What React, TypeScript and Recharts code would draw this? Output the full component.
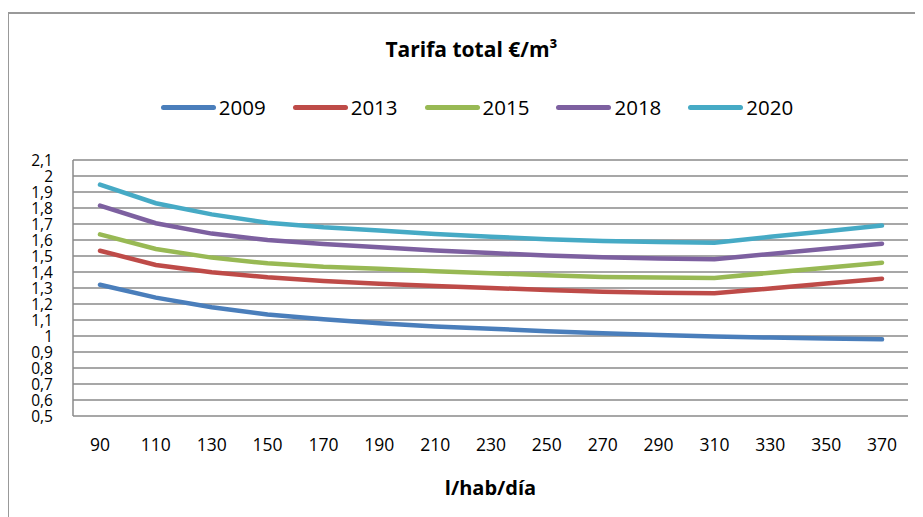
import React from 'react'
import { LineChart, Line, XAxis, YAxis, CartesianGrid } from 'recharts'

const xValues = [90, 110, 130, 150, 170, 190, 210, 230, 250, 270, 290, 310, 330, 350, 370]

const s2009 = [1.32, 1.24, 1.18, 1.135, 1.105, 1.08, 1.06, 1.045, 1.03, 1.017, 1.007, 0.997, 0.99, 0.985, 0.979]
const s2013 = [1.533, 1.444, 1.398, 1.367, 1.344, 1.327, 1.313, 1.3, 1.288, 1.277, 1.271, 1.267, 1.297, 1.328, 1.358]
const s2015 = [1.635, 1.544, 1.49, 1.454, 1.433, 1.42, 1.405, 1.392, 1.38, 1.369, 1.365, 1.363, 1.395, 1.427, 1.458]
const s2018 = [1.815, 1.705, 1.64, 1.6, 1.575, 1.555, 1.535, 1.518, 1.503, 1.492, 1.485, 1.48, 1.513, 1.545, 1.577]
const s2020 = [1.946, 1.83, 1.76, 1.708, 1.68, 1.66, 1.638, 1.62, 1.605, 1.594, 1.588, 1.583, 1.62, 1.655, 1.69]

const yTicks = [0.5, 0.6, 0.7, 0.8, 0.9, 1, 1.1, 1.2, 1.3, 1.4, 1.5, 1.6, 1.7, 1.8, 1.9, 2, 2.1]

const seriesNames = ['2009', '2013', '2015', '2018', '2020']
const seriesColors = ['#4a7ebb', '#be4b48', '#98b954', '#7d60a0', '#46aac5']

const title = 'Tarifa total €/m³'
const xTitle = 'l/hab/día'

const data = xValues.map((x, i) => ({
  x,
  '2009': s2009[i],
  '2013': s2013[i],
  '2015': s2015[i],
  '2018': s2018[i],
  '2020': s2020[i],
}))

const font = '"Open Sans", sans-serif'
const gridColor = '#8a8a8a'

export default function App() {
  return (
    <div style={{ position: 'relative', width: 923, height: 517, margin: '-8px 0 0 -8px', overflow: 'hidden', background: '#fff' }}>
      <div style={{ position: 'absolute', left: 7, top: 12, width: 940, height: 540, border: '2px solid #999', boxSizing: 'border-box' }} />
      <div style={{ position: 'absolute', left: 0, top: 34, width: 943, textAlign: 'center', fontFamily: font, fontWeight: 700, fontSize: 21, lineHeight: '30px' }}>
        {title}
      </div>
      <div style={{ position: 'absolute', left: 0, top: 92, width: 954, display: 'flex', justifyContent: 'center', alignItems: 'center', gap: 27, fontFamily: font, fontSize: 20.5, lineHeight: '30px' }}>
        {seriesNames.map((name, i) => (
          <div key={name} style={{ display: 'flex', alignItems: 'center', gap: 3 }}>
            <div style={{ width: 55, height: 5, borderRadius: 3, background: seriesColors[i] }} />
            <span>{name}</span>
          </div>
        ))}
      </div>
      <div style={{ position: 'absolute', left: 73, top: 473, width: 835, textAlign: 'center', fontFamily: font, fontWeight: 700, fontSize: 20, lineHeight: '30px' }}>
        {xTitle}
      </div>
      <div style={{ position: 'absolute', left: 0, top: 0 }}>
        <LineChart width={923} height={517} data={data} margin={{ top: 160, right: 15, left: 0, bottom: 0 }}>
          <CartesianGrid vertical={false} stroke={gridColor} strokeWidth={1.5} />
          <XAxis
            dataKey="x"
            axisLine={false}
            tickLine={false}
            tickSize={0}
            tickMargin={23}
            interval={0}
            height={101}
            padding={{ left: 27, right: 26 }}
            tick={{ fill: '#000', fontFamily: font, fontSize: 17.5 }}
          />
          <YAxis
            width={73}
            domain={[0.5, 2.1]}
            ticks={yTicks}
            interval={0}
            axisLine={{ stroke: gridColor, strokeWidth: 1.5 }}
            tickLine={false}
            tickSize={0}
            tickMargin={20}
            tickFormatter={(v: number) => String(v).replace('.', ',')}
            tick={{ fill: '#000', fontFamily: font, fontSize: 15.5 }}
          />
          {seriesNames.map((name, i) => (
            <Line
              key={name}
              type="linear"
              dataKey={name}
              stroke={seriesColors[i]}
              strokeWidth={4.5}
              strokeLinecap="round"
              dot={false}
              isAnimationActive={false}
            />
          ))}
        </LineChart>
      </div>
    </div>
  )
}
